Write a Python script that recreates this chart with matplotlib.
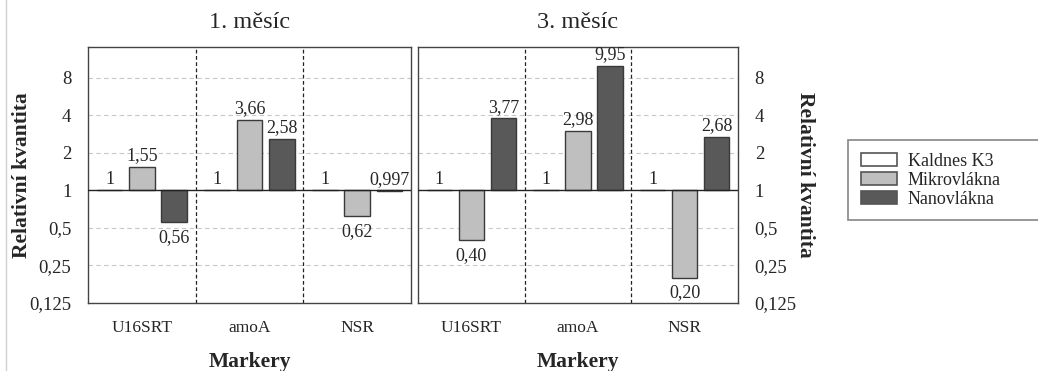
import matplotlib
matplotlib.use('Agg')
import matplotlib.pyplot as plt
from matplotlib.patches import Patch
from matplotlib.lines import Line2D
import numpy as np

# ---------- data ----------
markers = ['U16SRT', 'amoA', 'NSR']
series = ['Kaldnes K3', 'Mikrovlákna', 'Nanovlákna']
colors = ['#ffffff', '#bfbfbf', '#595959']

month1_kaldnes = [1, 1, 1]
month1_mikro = [1.55, 3.66, 0.62]
month1_nano = [0.56, 2.58, 0.997]
month1_labels = [['1', '1', '1'], ['1,55', '3,66', '0,62'], ['0,56', '2,58', '0,997']]

month3_kaldnes = [1, 1, 1]
month3_mikro = [0.40, 2.98, 0.20]
month3_nano = [3.77, 9.95, 2.68]
month3_labels = [['1', '1', '1'], ['0,40', '2,98', '0,20'], ['3,77', '9,95', '2,68']]

yticks = [0.125, 0.25, 0.5, 1, 2, 4, 8]
ytick_labels = ['0,125', '0,25', '0,5', '1', '2', '4', '8']

plt.rcParams['font.family'] = ['Liberation Serif', 'DejaVu Serif']
TXT = '#262626'

W, H = 1038, 371
fig = plt.figure(figsize=(W / 100, H / 100), dpi=100)


def draw_panel(ax, values, labels, title, right=False):
    x = np.arange(len(markers))
    offsets = [-0.3, 0.0, 0.3]
    for vals, labs, off, col in zip(values, labels, offsets, colors):
        v = np.array(vals, dtype=float)
        ax.bar(x + off, v - 1, bottom=1, width=0.24, color=col,
               edgecolor='#3a3a3a', linewidth=1.0, zorder=3)
        for xi, vi, lab in zip(x + off, v, labs):
            if vi >= 0.99:
                ax.annotate(lab, (xi, vi), xytext=(0, 2), textcoords='offset points',
                            ha='center', va='bottom', fontsize=13, color=TXT)
            else:
                ax.annotate(lab, (xi, vi), xytext=(0, -5), textcoords='offset points',
                            ha='center', va='top', fontsize=13, color=TXT)
    ax.set_yscale('log', base=2)
    ax.set_ylim(0.125, 14.1)
    ax.set_xlim(-0.5, 2.5)
    ax.axhline(1, color='#222222', lw=1.0, zorder=4)
    for yv in [0.25, 0.5, 2, 4, 8]:
        ax.axhline(yv, color='#c8c8c8', lw=0.8, ls=(0, (4, 3)), zorder=1)
    for xv in [0.5, 1.5]:
        ax.axvline(xv, color='#222222', lw=0.9, ls=(0, (3, 2)), zorder=2)
    ax.set_xticks(x)
    ax.set_xticklabels(markers, fontsize=12.5, color=TXT)
    ax.set_yticks(yticks)
    ax.set_yticklabels(ytick_labels, fontsize=13.5, color=TXT)
    ax.minorticks_off()
    ax.tick_params(axis='x', length=0, pad=12)
    ax.tick_params(axis='y', length=0, pad=12)
    for s in ax.spines.values():
        s.set_color('#444444')
        s.set_linewidth(1.0)
    ax.text(0.5, (303 - 23) / 256, title, transform=ax.transAxes, ha='center',
            va='center', fontsize=17.5, color=TXT)
    ax.set_xlabel('Markery', fontsize=15.5, fontweight='bold', color=TXT)
    ax.xaxis.set_label_coords(0.5, (303 - 362) / 256)
    ax.xaxis.label.set_va('center')
    ax.set_ylabel('Relativní kvantita', fontsize=15.5, fontweight='bold', color=TXT)
    if right:
        ax.yaxis.tick_right()
        ax.yaxis.set_label_position('right')
        ax.yaxis.label.set_rotation(-90)
        ax.yaxis.set_label_coords((805 - 418) / 320, 0.5)
    else:
        ax.yaxis.set_label_coords((22 - 88) / 323, 0.5)
    ax.yaxis.label.set_va('center')


ax1 = fig.add_axes([88 / W, 1 - 303 / H, 323 / W, 256 / H])
ax2 = fig.add_axes([418 / W, 1 - 303 / H, 320 / W, 256 / H])

draw_panel(ax1, [month1_kaldnes, month1_mikro, month1_nano], month1_labels, '1. měsíc')
draw_panel(ax2, [month3_kaldnes, month3_mikro, month3_nano], month3_labels, '3. měsíc', right=True)

# legend box runs off the right edge like in the original
handles = [Patch(facecolor=c, edgecolor='#555555', linewidth=1.2) for c in colors]
leg = fig.legend(handles, series, loc='upper left', mode='expand',
                 bbox_to_anchor=(848 / W, 1 - 218 / H, 200 / W, 78 / H), borderaxespad=0,
                 frameon=True, fancybox=False, fontsize=13, handlelength=2.0,
                 handleheight=0.8, labelspacing=0.1, borderpad=0.7, handletextpad=0.6)
leg.get_frame().set_edgecolor('#666666')
leg.get_frame().set_linewidth(1.2)
for t in leg.get_texts():
    t.set_color(TXT)

# faint page edge on the left
fig.add_artist(Line2D([6 / W, 6 / W], [0, 1], color='#d0d0d0', lw=1))

fig.savefig('out.png', dpi=100)
